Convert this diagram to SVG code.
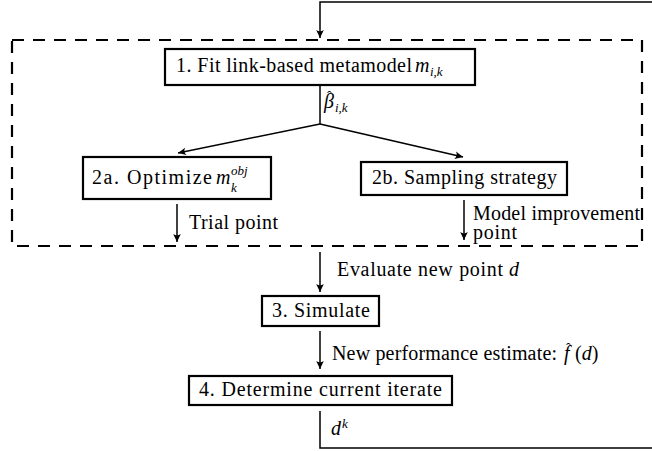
<svg xmlns="http://www.w3.org/2000/svg" width="652" height="451" viewBox="0 0 652 451">
  <style>
    .box { fill: #ffffff; stroke: #000000; stroke-width: 2.2; }
    .frame { fill: none; stroke: #000000; stroke-width: 2.2; stroke-dasharray: 12 9; }
    .wire { fill: none; stroke: #000000; stroke-width: 1.5; }
    .arrow { fill: none; stroke: #000000; stroke-width: 1.5; marker-end: url(#tip); }
    .m { font-style: italic; }
    .s { font-size: 13px; font-style: italic; }
    .hat { font-size: 14px; }
  </style>
  <defs>
    <marker id="tip" markerUnits="userSpaceOnUse" markerWidth="12" markerHeight="10" viewBox="-9 -5 10 10" refX="0" refY="0" orient="auto">
      <path d="M0,0 L-8,-3.8 Q-5.2,0 -8,3.8 Z" fill="#000000"/>
    </marker>
  </defs>

  <!-- dashed frame around steps 1, 2a, 2b -->
  <rect class="frame" x="12" y="40" width="630" height="206"/>

  <g font-family="'Liberation Serif', 'DejaVu Serif', serif" font-size="20" fill="#000000">
  <g id="connectors">
    <polyline class="arrow" points="652,2 320,2 320,38"/>
    <line class="wire" x1="320" y1="85" x2="320" y2="124"/>
    <line class="arrow" x1="320" y1="124" x2="178" y2="153"/>
    <line class="arrow" x1="320" y1="124" x2="463" y2="157"/>
    <line class="arrow" x1="177" y1="204" x2="177" y2="242"/>
    <line class="arrow" x1="464" y1="200" x2="464" y2="240"/>
    <line class="arrow" x1="320" y1="252" x2="320" y2="292"/>
    <line class="arrow" x1="320" y1="331" x2="320" y2="369"/>
    <polyline class="wire" points="320,411 320,448 652,448"/>

    <!-- connector labels -->
    <text x="324" y="108" class="m">β</text>
    <text x="327" y="101" class="hat">ˆ</text>
    <text x="335" y="112" class="s">i,k</text>

    <text x="189" y="229" textLength="89" lengthAdjust="spacing">Trial point</text>
    <text x="473" y="220" textLength="167" lengthAdjust="spacing">Model improvement</text>
    <text x="473" y="239" textLength="44" lengthAdjust="spacing">point</text>

    <text x="337" y="276" textLength="166" lengthAdjust="spacing">Evaluate new point</text>
    <text x="509" y="276" class="m">d</text>

    <text x="332" y="360" textLength="225" lengthAdjust="spacing">New performance estimate:</text>
    <text x="564" y="360" class="m">f</text>
    <text x="566" y="353" class="hat">ˆ</text>
    <text x="575" y="360">(<tspan class="m">d</tspan>)</text>

    <text x="331" y="435" class="m">d</text>
    <text x="342" y="428" class="s">k</text>
  </g>

  <g id="step1">
    <rect class="box" x="165" y="49" width="310" height="36"/>
    <text x="176" y="72" textLength="236" lengthAdjust="spacing">1.  Fit link-based metamodel</text>
    <text x="415" y="72" class="m">m</text>
    <text x="430" y="76" class="s">i,k</text>
  </g>

  <g id="step2a">
    <rect class="box" x="83" y="157" width="188" height="42"/>
    <text x="92" y="184" textLength="120" lengthAdjust="spacing">2a.  Optimize</text>
    <text x="216" y="184" class="m">m</text>
    <text x="231" y="175" class="s">obj</text>
    <text x="231" y="192" class="s">k</text>
  </g>

  <g id="step2b">
    <rect class="box" x="361" y="162" width="206" height="33"/>
    <text x="372" y="184" textLength="185" lengthAdjust="spacing">2b.  Sampling strategy</text>
  </g>

  <g id="step3">
    <rect class="box" x="262" y="296" width="117" height="30"/>
    <text x="272" y="317" textLength="98" lengthAdjust="spacing">3.  Simulate</text>
  </g>

  <g id="step4">
    <rect class="box" x="189" y="376" width="263" height="29"/>
    <text x="199" y="396" textLength="243" lengthAdjust="spacing">4.  Determine current iterate</text>
  </g>
  </g>
</svg>
